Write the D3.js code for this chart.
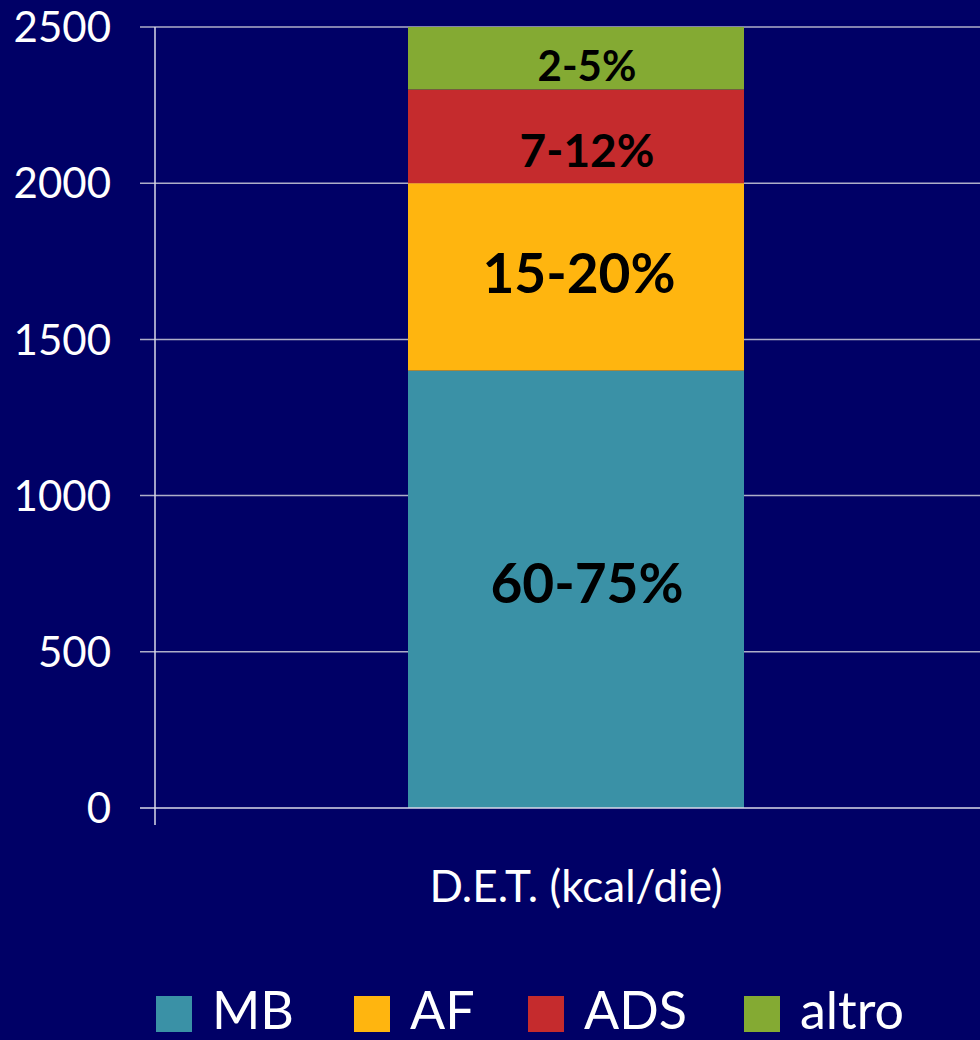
<!DOCTYPE html>
<html lang="it">
  <head>
    <meta charset="UTF-8" />
    <title>D.E.T. (kcal/die)</title>
    <style>
      html, body { margin: 0; padding: 0; background: #000066; }
      svg { display: block; font-family: 'Lato', 'Open Sans', sans-serif; }
    </style>
  </head>
  <body>
    <svg id="svg" width="980" height="1040"></svg>

    <script src="https://d3js.org/d3.v7.min.js"></script>
    <script>
      // data
      const categories = ['D.E.T. (kcal/die)'];
      const series = ['MB', 'AF', 'ADS', 'altro'];
      const values = [1400, 600, 300, 200];
      const labels = ['60-75%', '15-20%', '7-12%', '2-5%'];
      const colors = ['#3a91a6', '#ffb50f', '#c52b2d', '#84aa33'];
      const yTicks = [0, 500, 1000, 1500, 2000, 2500];

      const svg = d3.select('#svg');

      const x = d3.scaleBand().domain(categories).range([155, 997]).paddingInner(0).paddingOuter(0.753);
      const y = d3.scaleLinear().domain([0, 2500]).range([808, 27]);

      // stack the segments
      let acc = 0;
      const segs = series.map((s, i) => {
        const d = { key: s, y0: acc, y1: acc + values[i], label: labels[i], color: colors[i] };
        acc += values[i];
        return d;
      });

      // gridlines (behind the bar)
      svg.append('g')
        .selectAll('line')
        .data(yTicks.filter((t) => t > 0))
        .enter()
        .append('line')
        .attr('x1', 140)
        .attr('x2', 980)
        .attr('y1', (d) => y(d))
        .attr('y2', (d) => y(d))
        .attr('stroke', '#aeaec8')
        .attr('stroke-width', 1.5);

      // bar
      svg.append('g')
        .selectAll('rect')
        .data(segs)
        .enter()
        .append('rect')
        .attr('x', x(categories[0]))
        .attr('width', x.bandwidth())
        .attr('y', (d) => y(d.y1))
        .attr('height', (d) => y(d.y0) - y(d.y1))
        .attr('fill', (d) => d.color);

      // axes lines
      svg.append('line')
        .attr('x1', 140).attr('x2', 980)
        .attr('y1', y(0)).attr('y2', y(0))
        .attr('stroke', '#d8d8e8').attr('stroke-width', 1.5);
      svg.append('line')
        .attr('x1', 155).attr('x2', 155)
        .attr('y1', y(2500)).attr('y2', y(0) + 17)
        .attr('stroke', '#d8d8e8').attr('stroke-width', 1.5);

      // y tick labels
      svg.append('g')
        .selectAll('text')
        .data(yTicks)
        .enter()
        .append('text')
        .attr('x', 111)
        .attr('y', (d) => y(d))
        .attr('dy', '0.36em')
        .attr('text-anchor', 'end')
        .attr('fill', '#ffffff')
        .attr('font-size', 42)
        .text((d) => d);

      // segment labels
      const labelSize = [55, 55, 46, 42];
      const labelDx = [11, 3, 11, 11];
      const labelDy = [-6, -4, 14, 8];
      svg.append('g')
        .selectAll('text')
        .data(segs)
        .enter()
        .append('text')
        .attr('x', (d, i) => x(categories[0]) + x.bandwidth() / 2 + labelDx[i])
        .attr('y', (d, i) => (y(d.y0) + y(d.y1)) / 2 + labelDy[i])
        .attr('dy', '0.36em')
        .attr('text-anchor', 'middle')
        .attr('font-weight', 'bold')
        .attr('font-size', (d, i) => labelSize[i])
        .attr('fill', '#000000')
        .text((d) => d.label);

      // category label
      svg.append('text')
        .attr('x', x(categories[0]) + x.bandwidth() / 2)
        .attr('y', 886)
        .attr('dy', '0.36em')
        .attr('text-anchor', 'middle')
        .attr('fill', '#ffffff')
        .attr('font-size', 44)
        .text(categories[0]);

      // legend
      const legendX = [156, 354, 528, 744];
      const lg = svg.append('g')
        .selectAll('g')
        .data(segs)
        .enter()
        .append('g')
        .attr('transform', (d, i) => `translate(${legendX[i]},996)`);
      lg.append('rect')
        .attr('width', 36)
        .attr('height', 36)
        .attr('fill', (d) => d.color);
      lg.append('text')
        .attr('x', 56)
        .attr('y', 33)
        .attr('fill', '#ffffff')
        .attr('font-size', 52)
        .text((d) => d.key);
    </script>
  </body>
</html>
